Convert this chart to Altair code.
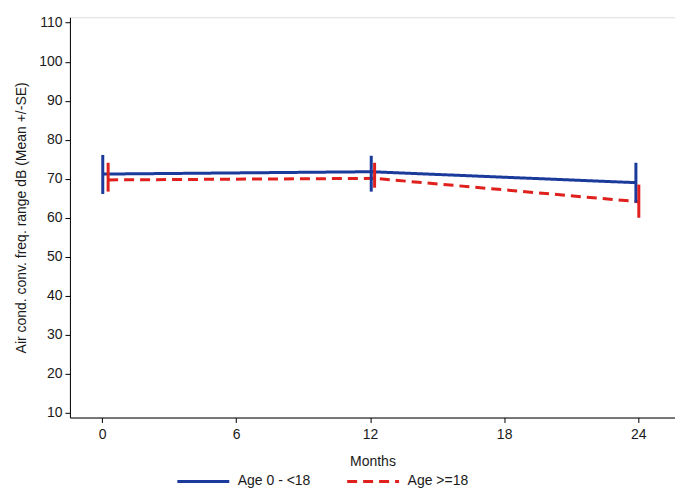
import altair as alt
import pandas as pd

groups = ["Age 0 - <18", "Age >=18"]
months_young = [0.03, 12.05, 23.9]
mean_young = [71.2, 71.8, 69.0]
low_young = [66.1, 66.7, 63.9]
high_young = [76.1, 75.9, 74.1]

months_adult = [0.27, 12.2, 24.03]
mean_adult = [69.7, 70.1, 64.1]
low_adult = [66.7, 67.7, 60.0]
high_adult = [74.1, 74.1, 68.5]

x_ticks = [0, 6, 12, 18, 24]
y_ticks = [10, 20, 30, 40, 50, 60, 70, 80, 90, 100, 110]

rows = []
for m, mu, lo, hi in zip(months_young, mean_young, low_young, high_young):
    rows.append({"group": groups[0], "month": m, "mean": mu, "low": lo, "high": hi})
for m, mu, lo, hi in zip(months_adult, mean_adult, low_adult, high_adult):
    rows.append({"group": groups[1], "month": m, "mean": mu, "low": lo, "high": hi})
df = pd.DataFrame(rows)

FONT = "Liberation Sans"
colors = ["#1a3a9c", "#e0201c"]

xscale = alt.Scale(domain=[-1.44, 25.65], nice=False, zero=False)
yscale = alt.Scale(domain=[8.8, 111.4], nice=False, zero=False)

xaxis = alt.Axis(values=x_ticks, title="Months", grid=False, tickSize=5, tickColor="black",
                 domainColor="black", labelFontSize=14, titleFontSize=14, titleFontWeight="normal",
                 labelColor="#1a1a1a", titleColor="#1a1a1a", labelPadding=5, titlePadding=13,
                 labelFont=FONT, titleFont=FONT)
yaxis = alt.Axis(values=y_ticks, title="Air cond. conv. freq. range dB (Mean +/-SE)", grid=False,
                 tickSize=5, tickColor="black", domainColor="black", labelFontSize=14,
                 titleFontSize=14, titleFontWeight="normal", labelColor="#1a1a1a",
                 titleColor="#1a1a1a", labelPadding=3, titlePadding=10, labelFont=FONT, titleFont=FONT)

legend_opts = dict(title=None, orient="none", legendX=106, legendY=437,
                   direction="horizontal", columns=2, columnPadding=30,
                   symbolType="stroke", symbolSize=2704, symbolStrokeWidth=3,
                   labelFontSize=14, labelFont=FONT, labelColor="#1a1a1a", labelOffset=7)

color_enc = alt.Color("group:N", scale=alt.Scale(domain=groups, range=colors),
                      legend=alt.Legend(**legend_opts))
dash_enc = alt.StrokeDash("group:N", scale=alt.Scale(domain=groups, range=[[1, 0], [10, 6]]),
                          legend=alt.Legend(**legend_opts))

lines = alt.Chart(df).mark_line(strokeWidth=3).encode(
    x=alt.X("month:Q", scale=xscale, axis=xaxis),
    y=alt.Y("mean:Q", scale=yscale, axis=yaxis),
    color=color_enc,
    strokeDash=dash_enc,
    detail="group:N",
)

bars = alt.Chart(df).mark_rule(strokeWidth=3).encode(
    x=alt.X("month:Q", scale=xscale),
    y=alt.Y("low:Q", scale=yscale),
    y2="high:Q",
    color=alt.Color("group:N", scale=alt.Scale(domain=groups, range=colors), legend=None),
)

chart = alt.layer(lines, bars).properties(
    width=605.7, height=400.7,
    autosize=alt.AutoSizeParams(type="none"),
    padding={"left": 62, "top": 9, "right": 0, "bottom": 74},
).configure_view(stroke="black", strokeWidth=1.5).configure(background="white")

chart.save("out.html", embed_options={"renderer": "svg", "actions": False})
